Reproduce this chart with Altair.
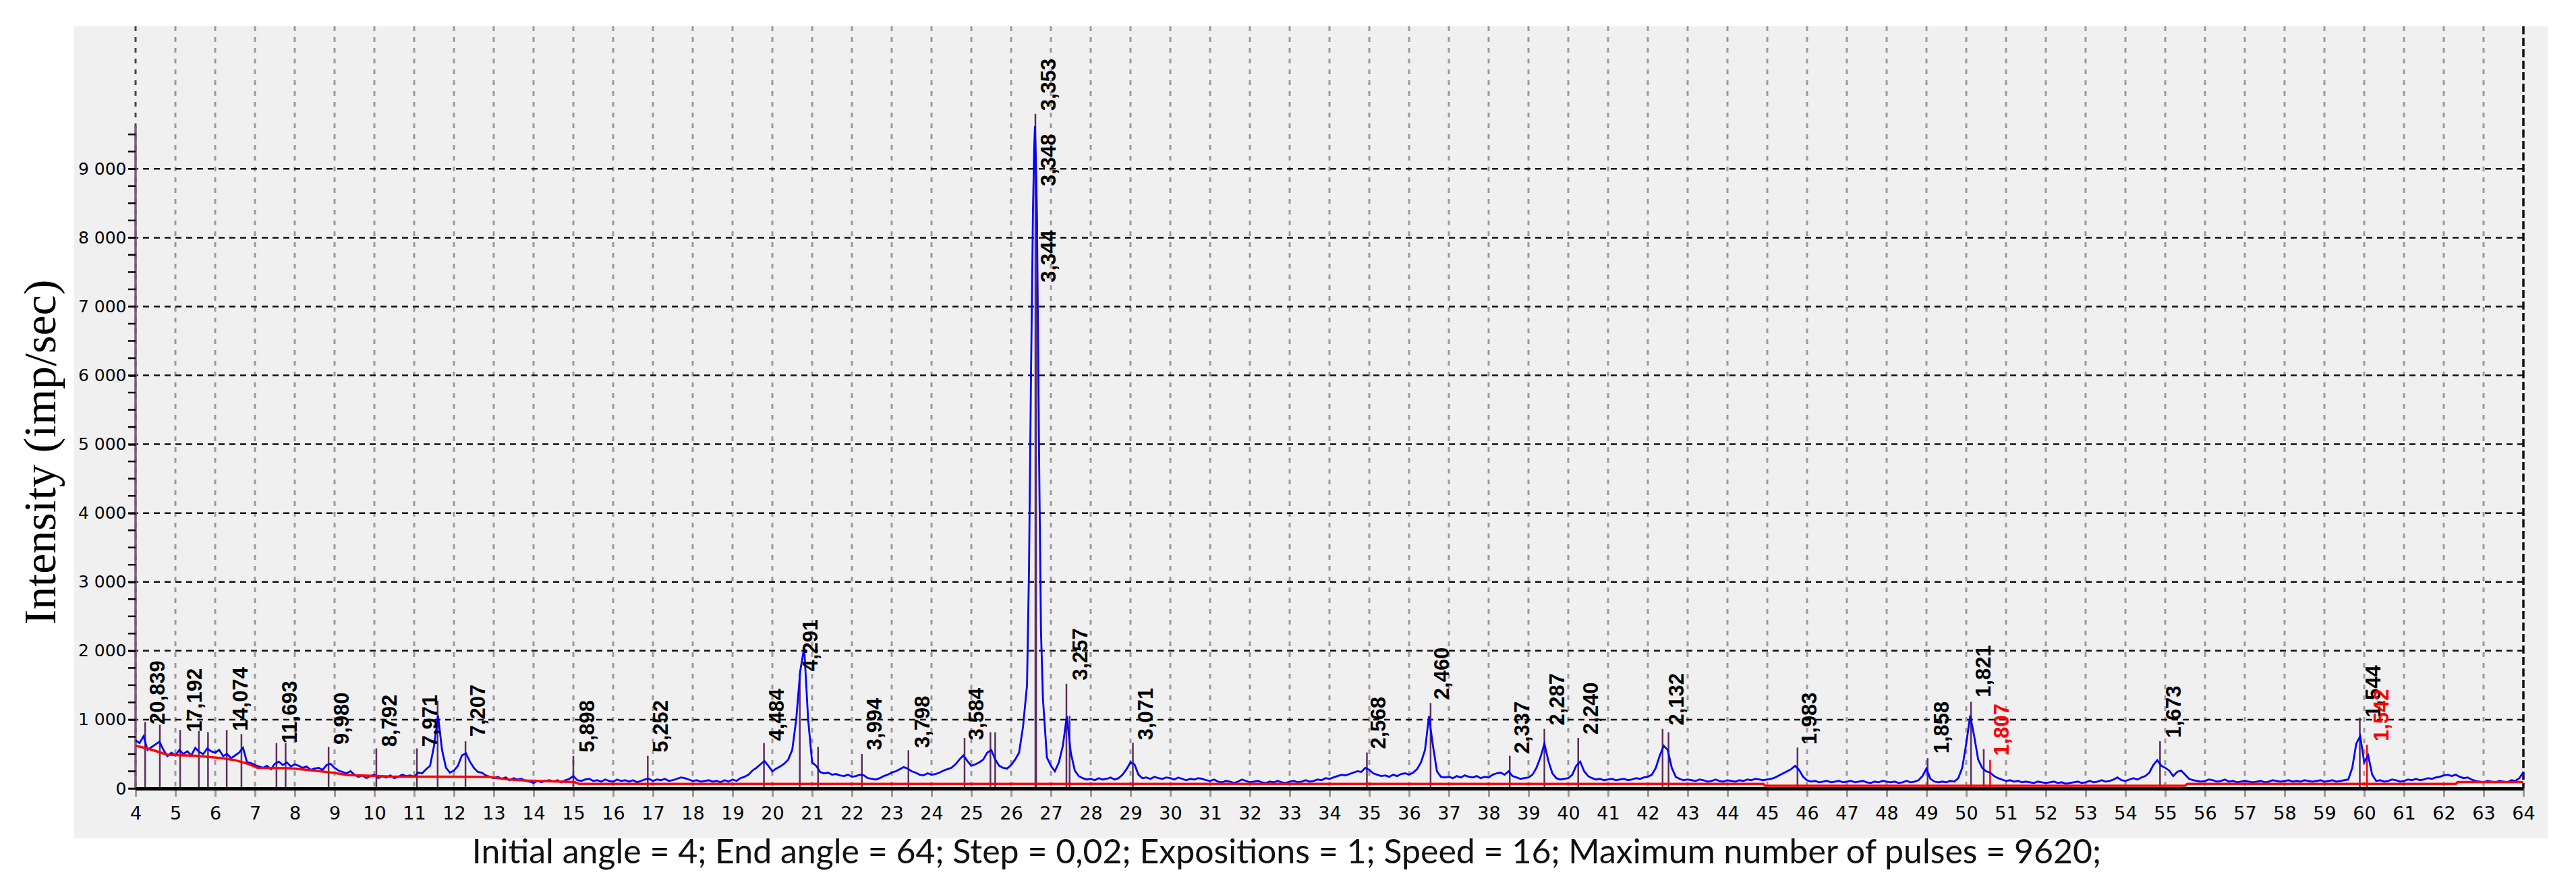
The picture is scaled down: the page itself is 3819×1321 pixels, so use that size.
import altair as alt
import pandas as pd

# ---------------- data ----------------
scan_start = 4.0
scan_step = 0.1
# intensity (imp/sec) every 0.1 deg from 4.0 to 64.0
intensity = [
    700, 660, 760, 560, 600, 640, 680, 560, 470, 520,   # 4
    480, 560, 500, 540, 480, 590, 530, 500, 580, 540,   # 5
    520, 560, 470, 500, 440, 480, 520, 590, 380, 370,   # 6
    340, 320, 300, 330, 280, 360, 390, 340, 380, 320,   # 7
    350, 330, 300, 320, 270, 290, 300, 270, 340, 360,   # 8
    300, 260, 240, 220, 250, 200, 170, 190, 150, 180,   # 9
    200, 150, 180, 160, 190, 150, 170, 200, 180, 190,   # 10
    170, 230, 220, 280, 330, 620, 1060, 560, 300, 230,  # 11
    260, 330, 480, 510, 390, 300, 240, 230, 190, 170,   # 12
    150, 170, 140, 160, 120, 150, 130, 140, 110, 100,   # 13
    80, 110, 90, 110, 120, 100, 120, 90, 120, 140,      # 14
    180, 120, 110, 130, 140, 110, 120, 100, 130, 110,   # 15
    100, 130, 110, 120, 100, 120, 90, 110, 130, 140,    # 16
    110, 130, 120, 140, 110, 120, 140, 160, 150, 130,   # 17
    110, 120, 100, 110, 120, 100, 110, 90, 120, 100,    # 18
    130, 110, 150, 170, 200, 260, 300, 350, 400, 330,   # 19
    250, 290, 320, 360, 420, 560, 1000, 1700, 2050, 1000,  # 20
    380, 330, 240, 220, 230, 200, 210, 190, 180, 200,   # 21
    170, 180, 200, 190, 150, 140, 130, 150, 180, 200,   # 22
    230, 250, 280, 310, 290, 250, 230, 200, 190, 220,   # 23
    200, 210, 230, 260, 280, 300, 350, 420, 480, 400,   # 24
    330, 350, 380, 420, 520, 560, 420, 330, 300, 290,   # 25
    340, 420, 520, 900, 1500, 6000, 9620, 5000, 1300, 450,  # 26
    330, 250, 380, 620, 1050, 520, 260, 180, 150, 130,  # 27
    140, 120, 150, 130, 140, 160, 130, 150, 200, 280,   # 28
    380, 350, 200, 150, 160, 140, 170, 150, 140, 160,   # 29
    150, 130, 160, 140, 120, 140, 130, 150, 140, 120,   # 30
    110, 130, 100, 90, 110, 100, 80, 100, 130, 110,     # 31
    90, 100, 110, 90, 80, 100, 90, 110, 90, 80,         # 32
    100, 110, 90, 100, 120, 100, 110, 130, 120, 150,    # 33
    140, 160, 180, 200, 190, 210, 230, 250, 240, 300,   # 34
    270, 220, 200, 180, 190, 170, 200, 180, 210, 220,   # 35
    200, 230, 280, 380, 560, 1050, 620, 250, 170, 160,  # 36
    170, 150, 180, 160, 190, 170, 160, 180, 150, 170,   # 37
    160, 200, 220, 230, 200, 250, 180, 160, 140, 150,   # 38
    160, 200, 300, 450, 650, 400, 220, 150, 130, 140,   # 39
    150, 200, 330, 390, 250, 180, 150, 130, 140, 120,   # 40
    130, 140, 120, 130, 140, 120, 130, 150, 140, 160,   # 41
    170, 200, 300, 480, 620, 560, 300, 170, 140, 120,   # 42
    130, 120, 110, 130, 120, 100, 110, 130, 110, 100,   # 43
    120, 110, 100, 120, 110, 130, 120, 140, 130, 120,   # 44
    130, 140, 160, 190, 220, 250, 280, 330, 270, 170,   # 45
    120, 100, 110, 90, 100, 110, 90, 100, 110, 90,      # 46
    100, 110, 90, 100, 110, 90, 80, 100, 90, 110,       # 47
    100, 90, 100, 80, 90, 110, 90, 100, 120, 180,       # 48
    290, 140, 100, 90, 100, 90, 110, 100, 150, 300,     # 49
    650, 1060, 760, 420, 300, 250, 230, 180, 150, 130,  # 50
    110, 120, 100, 110, 90, 100, 90, 80, 100, 90,       # 51
    80, 90, 100, 80, 90, 70, 80, 90, 100, 80,           # 52
    90, 110, 90, 100, 120, 100, 110, 130, 160, 120,     # 53
    110, 130, 150, 130, 160, 180, 230, 340, 410, 330,   # 54
    300, 260, 180, 240, 260, 200, 140, 120, 110, 100,   # 55
    110, 130, 120, 100, 110, 130, 100, 110, 90, 100,    # 56
    110, 100, 90, 100, 110, 90, 100, 120, 110, 100,     # 57
    110, 120, 100, 110, 100, 120, 110, 100, 110, 120,   # 58
    100, 110, 120, 100, 110, 120, 130, 300, 650, 760,   # 59
    380, 480, 200, 110, 120, 100, 110, 130, 120, 100,   # 60
    110, 130, 120, 140, 120, 130, 150, 140, 160, 170,   # 61
    190, 200, 180, 200, 170, 150, 160, 130, 110, 100,   # 62
    90, 110, 100, 90, 110, 100, 90, 120, 110, 150,      # 63
    240,                                                # 64
]
# extra points on the flanks of the main reflection
peak_x = [26.45, 26.55, 26.58, 26.62, 26.65, 26.75]
peak_y = [3200, 8400, 9300, 9200, 8300, 2300]

# background (red) line
bg_x = [4.0, 4.32, 4.80, 5.51, 6.17, 6.52, 6.82, 7.06, 7.89, 8.37, 8.96, 9.32,
        10.39, 12.88, 13.36, 13.84, 15.03, 15.15, 44.90, 44.95, 55.50, 55.55,
        62.30, 62.35, 64.0]
bg_y = [621, 578, 490, 474, 441, 408, 359, 300, 294, 268, 229, 196,
        173, 170, 131, 114, 92, 65, 65, 39, 39, 65,
        65, 92, 92]

# peak sticks
stick_x = [4.24, 4.61, 5.12, 5.59, 5.82, 6.29, 6.66, 7.54, 7.77, 8.85, 10.05,
           11.07, 11.59, 12.29, 15.00, 16.87, 19.79, 20.69, 21.15, 22.25, 23.42,
           24.83, 25.48, 25.60, 26.61, 26.62, 26.63, 27.39, 27.47, 29.06, 34.94,
           36.54, 38.53, 39.40, 40.25, 42.37, 42.52, 45.76, 49.03, 50.12, 50.44,
           50.60, 54.87, 59.89, 60.07]
stick_top = [965, 925, 850, 834, 818, 850, 791, 660, 660, 605, 582,
             582, 1275, 686, 474, 474, 660, 1670, 605, 500, 556,
             735, 817, 817, 9800, 8700, 7360, 1520, 1055, 663, 523,
             1242, 474, 866, 735, 866, 817, 595, 441, 1258, 572,
             415, 686, 1030, 637]
stick_color = ["#5c2f5c"] * 41 + ["#ff0000"] + ["#5c2f5c"] * 2 + ["#ff0000"]

# peak labels (d-spacing, angstrom)
label_text = ["20,839", "17,192", "14,074", "11,693", "9,980", "8,792", "7,971",
              "7,207", "5,898", "5,252", "4,484", "4,291", "3,994", "3,798",
              "3,584", "3,353", "3,348", "3,344", "3,257", "3,071", "2,568",
              "2,460", "2,337", "2,287", "2,240", "2,132", "1,983", "1,858",
              "1,821", "1,807", "1,673", "1,544", "1,542"]
label_x = [4.58, 5.50, 6.66, 7.89, 9.20, 10.41, 11.42,
           12.62, 15.38, 17.22, 20.13, 20.98, 22.60, 23.79,
           25.15, 26.96, 26.96, 26.96, 27.76, 29.40, 35.25,
           36.85, 38.86, 39.75, 40.59, 42.75, 46.09, 49.41,
           50.45, 50.91, 55.23, 60.25, 60.45]
label_y = [931, 817, 834, 654, 637, 605, 605,
           752, 523, 523, 690, 1700, 556, 588,
           703, 9843, 8748, 7350, 1569, 703, 572,
           1291, 507, 915, 784, 915, 637, 507,
           1324, 474, 735, 1030, 686]
label_color = ["#000000"] * 29 + ["#ff0000"] + ["#000000"] * 2 + ["#ff0000"]

y_label_values = [0, 1000, 2000, 3000, 4000, 5000, 6000, 7000, 8000, 9000]
y_grid_values = [1000, 2000, 3000, 4000, 5000, 6000, 7000, 8000, 9000]
y_minor_ticks = [v * 250 for v in range(0, 39)]
x_ticks = list(range(4, 65))
max_pulses = 9620

caption = ("Initial angle = 4; End angle = 64; Step = 0,02; Expositions = 1; "
           "Speed = 16; Maximum number of pulses = 9620;")

# ---------------- tables ----------------
scan = pd.DataFrame({
    "angle": [round(scan_start + i * scan_step, 2) for i in range(len(intensity))] + peak_x,
    "intensity": intensity + peak_y,
}).sort_values("angle")
bg = pd.DataFrame({"angle": bg_x, "intensity": bg_y})
sticks = pd.DataFrame({"angle": stick_x, "top": stick_top, "c": stick_color})
labels = pd.DataFrame({"angle": label_x, "y": label_y, "text": label_text, "c": label_color})
vgrid = pd.DataFrame({"angle": x_ticks[1:-1]})
hgrid = pd.DataFrame({"v": y_grid_values})
minor = pd.DataFrame({"v": y_minor_ticks})
one = pd.DataFrame({"angle": [x_ticks[0]], "right": [x_ticks[-1]], "top": [max_pulses]})

W, H = 3540, 1130
xs = alt.Scale(domain=[4, 64], nice=False, zero=False)
ys = alt.Scale(domain=[0, 11070], nice=False, zero=True)

x_axis = alt.Axis(
    values=x_ticks, format="d", labelFont="DejaVu Sans", labelFontSize=27, labelColor="#000",
    labelPadding=12, labelOverlap=False, labelFlush=False,
    tickColor="#9a9a9a", tickSize=12, tickWidth=3,
    domainColor="#000", domainWidth=5, grid=False, zindex=1,
    title=caption, titleFont="Lato", titleFontSize=50, titleFontWeight="normal",
    titleColor="#111", titleX=1706, titleY=95, titleAlign="center",
    titleBaseline="middle", titleAngle=0,
)
y_axis = alt.Axis(
    values=y_label_values,
    labelExpr="replace(format(datum.value, ','), ',', ' ')",
    labelFont="DejaVu Sans", labelFontSize=25, labelColor="#000", labelPadding=3,
    tickColor="#000", tickSize=11, tickWidth=2.5, domain=False, grid=False, zindex=1,
    title="Intensity (imp/sec)", titleFont="Liberation Serif", titleFontSize=68,
    titleFontWeight="normal", titleColor="#000", titleAngle=270, titleX=-140,
    titleY=631, titleAlign="center", titleBaseline="middle",
)

panel = alt.Chart(one).mark_rect(color="#f0f0f0").encode(
    x=alt.value(-91), x2=alt.value(3576), y=alt.value(0), y2=alt.value(1204))

vg = alt.Chart(vgrid).mark_rule(color="#9a9a9a", strokeWidth=3, strokeDash=[7, 9]).encode(
    x=alt.X("angle:Q", scale=xs, axis=x_axis))
hg = alt.Chart(hgrid).mark_rule(color="#111", strokeWidth=2.5, strokeDash=[9, 7]).encode(
    y=alt.Y("v:Q", scale=ys, axis=y_axis))
left_border = alt.Chart(one).mark_rule(color="#444", strokeWidth=3, strokeDash=[7, 9]).encode(
    x="angle:Q")
right_border = alt.Chart(one).mark_rule(color="#111", strokeWidth=3.5, strokeDash=[12, 5]).encode(
    x="right:Q")
y_line = alt.Chart(one).mark_rule(color="#7b587b", strokeWidth=3.5).encode(
    x="angle:Q", y=alt.Y("top:Q"), y2=alt.datum(0))
minor_ticks = alt.Chart(minor).mark_rule(color="#000", strokeWidth=2.5).encode(
    x=alt.value(-11), x2=alt.value(0), y="v:Q")
stick_layer = alt.Chart(sticks).mark_rule(strokeWidth=2.5).encode(
    x="angle:Q", y="top:Q", y2=alt.datum(0), color=alt.Color("c:N", scale=None))
blue = alt.Chart(scan).mark_line(color="#0000ff", strokeWidth=2.8).encode(
    x="angle:Q", y="intensity:Q", order="angle:Q")
red = alt.Chart(bg).mark_line(color="#ff0000", strokeWidth=3.5).encode(
    x="angle:Q", y="intensity:Q", order="angle:Q")
text = alt.Chart(labels).mark_text(
    angle=270, align="left", baseline="middle", font="Liberation Sans", fontSize=31,
    fontWeight="bold"
).encode(x="angle:Q", y="y:Q", text="text:N", color=alt.Color("c:N", scale=None))

chart = alt.layer(
    panel, vg, hg, left_border, right_border, y_line, minor_ticks,
    stick_layer, blue, red, text
).properties(
    width=W, height=H,
    autosize=alt.AutoSizeParams(type="none"),
    padding={"left": 193, "top": 31, "right": 70, "bottom": 140},
    background="#ffffff",
).configure_view(stroke=None)

chart.save("out.html", embed_options={"renderer": "svg", "actions": False})
